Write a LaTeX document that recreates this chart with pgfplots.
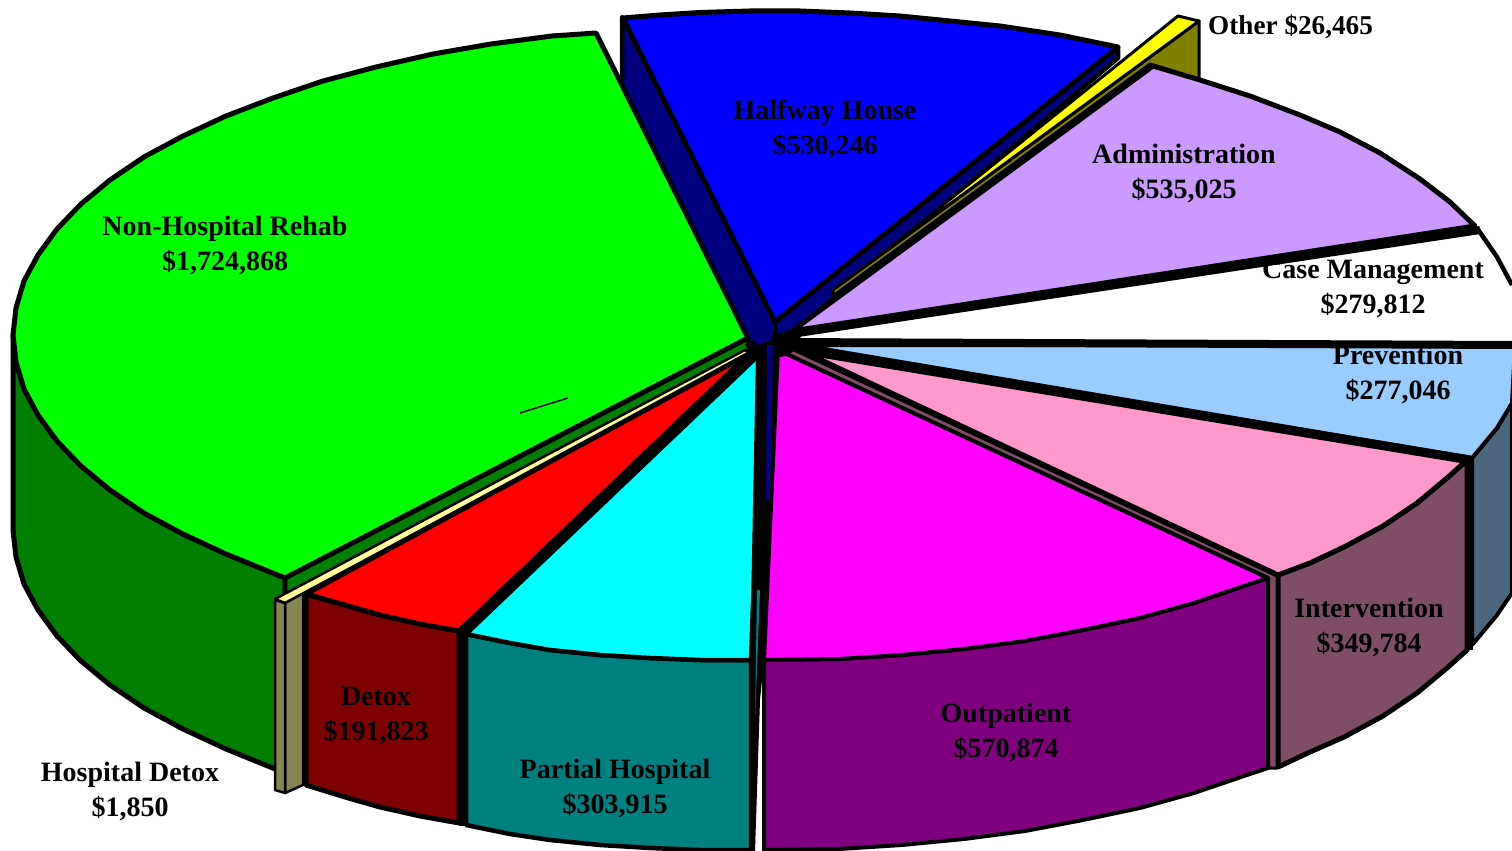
\documentclass[border=0pt]{standalone}
\usepackage{pgfplots}
\pgfplotsset{compat=1.18}
\usepackage{fontspec}
\setmainfont{Liberation Serif}
\definecolor{cGreen}{HTML}{00FF00}\definecolor{cGreenD}{HTML}{007F00}
\definecolor{cBlue}{HTML}{0000FF}\definecolor{cNavy}{HTML}{000080}
\definecolor{cLilac}{HTML}{CC99FF}\definecolor{cSky}{HTML}{99CCFF}
\definecolor{cSlate}{HTML}{4D6680}\definecolor{cPink}{HTML}{FF99CC}
\definecolor{cMauve}{HTML}{804D66}\definecolor{cMag}{HTML}{FF00FF}
\definecolor{cPurp}{HTML}{800080}\definecolor{cRed}{HTML}{FF0000}
\definecolor{cMar}{HTML}{7F0000}\definecolor{cCyan}{HTML}{00FFFF}
\definecolor{cTeal}{HTML}{008080}\definecolor{cYel}{HTML}{FFFF00}
\definecolor{cOli}{HTML}{808000}\definecolor{cPale}{HTML}{FFFF99}
\definecolor{cKhaki}{HTML}{868652}
\tikzset{lab/.style={font=\fontsize{28}{35}\selectfont\bfseries,align=center,text=black,inner sep=0pt}}
\begin{document}
\begin{tikzpicture}
\begin{axis}[name=ax,scale only axis,width=1512pt,height=851pt,xmin=0,xmax=1512,ymin=0,ymax=851,y dir=reverse,hide axis,clip=true,
  every axis plot/.append style={line join=round,line cap=butt}]
% Halfway House
\addplot[fill=cNavy,draw=black,line width=4.5pt] coordinates {(622,17)(775,320)(1118,47)(1118,58)(778,345)(748,345)(622,95)} --cycle;
\addplot[fill=cBlue,draw=black,line width=5pt] coordinates {(623,18)(660,15)(700,12.5)(750,11)(800,11)(850,13)(900,16)(950,21)(1000,26)(1060,35)(1118,47)(775,322)} --cycle;
% Other
\addplot[fill=cOli,draw=black,line width=3pt] coordinates {(1199,21)(1199,80)(1150,64)(833,296)(833,290)} --cycle;
\addplot[fill=cYel,draw=black,line width=3pt] coordinates {(1178,16)(1199,21)(882,254)} --cycle;
% Administration
\addplot[fill=cLilac,draw=black,line width=5pt] coordinates {(1153,66)(1200,80)(1250,96)(1300,115)(1340,132)(1380,153)(1420,179)(1450,202)(1475,226)(792,331)} --cycle;
% Case Management edge
\addplot[draw=black,line width=4.5pt] coordinates {(1477,228)(1497,257)(1512,285)};
\addplot[draw=black,line width=8pt] coordinates {(785,335)(1480,230)};
% Prevention
\addplot[fill=cSlate,draw=black,line width=4pt] coordinates {(1472,458)(1497,428)(1512,403)(1512,593)(1497,615)(1472,645)} --cycle;
\addplot[fill=cSky,draw=black,line width=4pt] coordinates {(800,345)(1515,345)(1512,403)(1497,428)(1472,458)} --cycle;
\addplot[draw=black,line width=8pt] coordinates {(780,342)(1515,345)};
% Intervention
\addplot[fill=cMauve,draw=black,line width=5pt] coordinates {(1278,575)(1310,563)(1344,547)(1383,526)(1417,503)(1447,478)(1467,460)(1467,650)(1447,668)(1417,693)(1383,716)(1344,737)(1310,752)(1278,767)} --cycle;
\addplot[fill=cPink,draw=black,line width=5pt] coordinates {(800,350)(1467,460)(1447,478)(1417,503)(1383,526)(1344,547)(1310,563)(1278,575)} --cycle;
\addplot[draw=black,line width=9pt] coordinates {(790,348)(1470,460)};
\addplot[draw=black,line width=7pt] coordinates {(1469,458)(1469,650)};
% Outpatient
\addplot[fill=cMauve,draw=black,line width=3pt] coordinates {(790,348)(1277,576)(1277,768)(1268,768)(1268,578)(780,352)} --cycle;
\addplot[fill=cPurp,draw=black,line width=4pt] coordinates {(764,660)(839,659)(902,655)(964,649)(1025,641)(1083,630)(1140,618)(1194,603)(1244,586)(1268,578)(1268,768)(1244,776)(1194,793)(1140,808)(1083,820)(1025,831)(964,839)(902,845)(839,849)(764,850)} --cycle;
\addplot[fill=cMag,draw=black,line width=4pt] coordinates {(778,350)(1268,578)(1244,586)(1194,603)(1140,618)(1083,630)(1025,641)(964,649)(902,655)(839,659)(764,660)} --cycle;
% Non-Hospital Rehab
\addplot[fill=cGreenD,draw=black,line width=5pt] coordinates {(13,335)(16,362)(24,389)(38,415)(57,441)(81,466)(110,490)(144,513)(183,534)(226,554)(285,578)(285,773)(226,749)(183,729)(144,708)(110,685)(81,661)(57,636)(38,610)(24,584)(16,557)(13,530)} --cycle;
\addplot[fill=cGreenD,draw=black,line width=4.5pt] coordinates {(285,578)(748,338)(750,352)(285,600)} --cycle;
\addplot[fill=cGreen,draw=black,line width=5pt] coordinates {(596,33)(552,36)(491,44)(433,54)(376,67)(323,81)(273,98)(226,116)(183,136)(144,157)(110,180)(81,204)(57,229)(38,255)(24,281)(16,308)(13,335)(16,362)(24,389)(38,415)(57,441)(81,466)(110,490)(144,513)(183,534)(226,554)(285,578)(748,338)} --cycle;
\addplot[draw=black,line width=1.5pt] coordinates {(520,413)(568,398)};
% Hospital Detox
\addplot[fill=cKhaki,draw=black,line width=2.5pt] coordinates {(285,603)(303,592)(303,785)(285,793)} --cycle;
\addplot[fill=cKhaki,draw=black,line width=2.5pt] coordinates {(275,600)(285,603)(285,793)(275,790)} --cycle;
\addplot[fill=cPale,draw=black,line width=2.5pt] coordinates {(275,599)(285,603)(750,354)(745,350)} --cycle;
% Detox
\addplot[fill=cMar,draw=black,line width=5pt] coordinates {(306,594)(345,605)(380,615)(420,624)(459,631)(459,823)(420,816)(380,807)(345,797)(306,785)} --cycle;
\addplot[fill=cRed,draw=black,line width=5pt] coordinates {(306,594)(745,356)(752,352)(459,631)(420,624)(380,615)(345,605)} --cycle;
% Partial Hospital
\addplot[draw=black,line width=7pt] coordinates {(462,630)(462,826)};
\addplot[fill=cTeal,draw=black,line width=4.5pt] coordinates {(466,634)(510,643)(550,650)(600,655)(650,658)(700,660)(751,660)(751,850)(700,850)(650,848)(600,845)(550,840)(510,834)(466,825)} --cycle;
\addplot[fill=cCyan,draw=black,line width=4.5pt] coordinates {(762,352)(466,634)(510,643)(550,650)(600,655)(650,658)(700,660)(751,660)} --cycle;
\addplot[draw=black,line width=8pt] coordinates {(462,631)(755,350)};
% centre
\addplot[fill=black,draw=none] coordinates {(756,350)(778,352)(764,660)(760,700)(755,851)(750,851)(750,660)} --cycle;
\addplot[fill=black,draw=none] coordinates {(745,344)(772,332)(800,334)(802,346)(786,356)(762,360)(750,358)} --cycle;
\addplot[fill=cNavy,draw=none] coordinates {(767,345)(773,345)(770,500)(766,500)} --cycle;
\addplot[fill=cTeal,draw=none] coordinates {(757,590)(760,590)(755,720)} --cycle;
\addplot[fill=cNavy,draw=none] coordinates {(752,335)(772,323)(772,340)(757,345)} --cycle;
\addplot[draw=black,line width=3pt] coordinates {(775,320)(775,346)};
% labels
\node[lab] at (axis cs:225,245.5) {Non-Hospital Rehab\\\$1,724,868};
\node[lab] at (axis cs:825,129) {Halfway House\\\$530,246};
\node[lab] at (axis cs:1184,173.5) {Administration\\\$535,025};
\node[lab] at (axis cs:1373,289) {Case Management\\\$279,812};
\node[lab] at (axis cs:1398,374.5) {Prevention\\\$277,046};
\node[lab] at (axis cs:1369,627.5) {Intervention\\\$349,784};
\node[lab] at (axis cs:1006,732) {Outpatient\\\$570,874};
\node[lab] at (axis cs:615,788.5) {Partial Hospital\\\$303,915};
\node[lab] at (axis cs:376,716) {Detox\\\$191,823};
\node[lab] at (axis cs:130,791) {Hospital Detox\\\$1,850};
\node[lab,anchor=west,font=\fontsize{27.2}{33}\selectfont\bfseries] at (axis cs:1208,26.5) {Other \$26,465};
\end{axis}
\pgfresetboundingbox
\path[use as bounding box] (ax.south west) rectangle (ax.north east);
\end{tikzpicture}
\end{document}
